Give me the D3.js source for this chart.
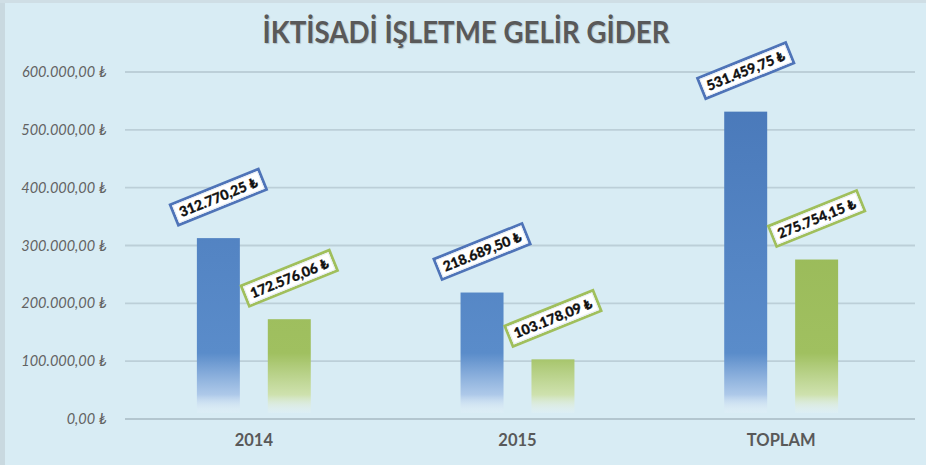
<!DOCTYPE html>
<html lang="tr">
<head>
<meta charset="UTF-8">
<title>İktisadi İşletme Gelir Gider</title>
<script src="https://d3js.org/d3.v7.min.js"></script>
<style>
  html, body { margin: 0; padding: 0; background: #d8ecf4; }
  svg { display: block; }
</style>
</head>
<body>
<div id="chart"></div>
<script>
// Data
const categories = ["2014", "2015", "TOPLAM"];
const series = ["gelir", "gider"];
const gelirValues = [312770.25, 218689.50, 531459.75];
const giderValues = [172576.06, 103178.09, 275754.15];
const yTicks = [0, 100000, 200000, 300000, 400000, 500000, 600000];
const title = "İKTİSADİ İŞLETME GELİR GİDER";

const width = 926;
const height = 465;
const margin = { top: 72, right: 13, bottom: 46, left: 122 };

const colors = {
  gelir: { top: "#4877b8", mid: "#5a8cca", light: "#a9c5e8", stroke: "#4f74b8" },
  gider: { top: "#92b350", mid: "#a0c060", light: "#cde0a6", stroke: "#a0bf5c" }
};

// Turkish currency formatting: 312.770,25 ₺
const trLocale = d3.formatLocale({ decimal: ",", thousands: ".", grouping: [3], currency: ["", " ₺"] });
const fmt = v => trLocale.format(",.2f")(v) + " ₺";

const svg = d3.select("#chart").append("svg")
  .attr("width", width)
  .attr("height", height);

// background + soft frame edge
svg.append("rect").attr("width", width).attr("height", height).attr("fill", "#d8ecf4");
svg.append("rect").attr("x", 0).attr("y", 0).attr("width", 5).attr("height", height).attr("fill", "#c9d9e0");
svg.append("rect").attr("x", 0).attr("y", 0).attr("width", width).attr("height", 3).attr("fill", "#cfdee5");

const x0 = d3.scaleBand()
  .domain(categories)
  .range([margin.left, width - margin.right]);

const x1 = d3.scaleBand()
  .domain(series)
  .range([x0.bandwidth() * 0.284, x0.bandwidth() * 0.716])
  .paddingInner(0.394);

const y = d3.scaleLinear()
  .domain([0, 600000])
  .range([height - margin.bottom, margin.top]);

// gradients (fade to background toward the bottom)
const defs = svg.append("defs");
series.forEach(s => {
  const g = defs.append("linearGradient")
    .attr("id", "grad-" + s)
    .attr("gradientUnits", "userSpaceOnUse")
    .attr("x1", 0).attr("x2", 0)
    .attr("y1", y(600000)).attr("y2", y(0));
  g.append("stop").attr("offset", "0%").attr("stop-color", colors[s].top);
  g.append("stop").attr("offset", "81%").attr("stop-color", colors[s].mid);
  g.append("stop").attr("offset", "93%").attr("stop-color", colors[s].light).attr("stop-opacity", 0.9);
  g.append("stop").attr("offset", "99%").attr("stop-color", "#f2f8fc").attr("stop-opacity", 0.05);
});

// gridlines
svg.append("g")
  .selectAll("line")
  .data(yTicks)
  .join("line")
  .attr("x1", margin.left + 3)
  .attr("x2", width - margin.right + 2)
  .attr("y1", d => y(d))
  .attr("y2", d => y(d))
  .attr("stroke", d => d === 0 ? "#b3c6cf" : "#bccfd8")
  .attr("stroke-width", 1.8);

// y labels
svg.append("g")
  .selectAll("text")
  .data(yTicks)
  .join("text")
  .attr("x", 107)
  .attr("y", d => y(d))
  .attr("dy", "0.35em")
  .attr("text-anchor", "end")
  .attr("font-family", "Lato, 'Noto Sans', sans-serif")
  .attr("font-style", "italic")
  .attr("font-size", 14.5)
  .attr("fill", "#626262")
  .text(d => fmt(d));

// x labels
svg.append("g")
  .selectAll("text")
  .data(categories)
  .join("text")
  .attr("x", d => x0(d) + x0.bandwidth() / 2)
  .attr("y", 446)
  .attr("text-anchor", "middle")
  .attr("font-family", "Lato, 'Noto Sans', sans-serif")
  .attr("font-weight", "bold")
  .attr("font-size", 16.5)
  .attr("fill", "#595959")
  .text(d => d);

// title
svg.append("text")
  .attr("x", 466)
  .attr("y", 43)
  .attr("text-anchor", "middle")
  .attr("font-family", "Lato, 'Noto Sans', sans-serif")
  .attr("font-weight", "bold")
  .attr("font-size", 31)
  .attr("fill", "#595959")
  .attr("textLength", 407)
  .attr("lengthAdjust", "spacingAndGlyphs")
  .style("text-shadow", "1px 1px 1px rgba(0,0,0,0.18)")
  .text(title);

const rows = categories.map((c, i) => ({ cat: c, gelir: gelirValues[i], gider: giderValues[i] }));
const bars = rows.flatMap(r => series.map(s => ({ cat: r.cat, s, v: r[s] })));

// bars
svg.append("g")
  .selectAll("rect")
  .data(bars)
  .join("rect")
  .attr("x", d => x0(d.cat) + x1(d.s))
  .attr("y", d => y(d.v))
  .attr("width", x1.bandwidth())
  .attr("height", d => y(0) - 6 - y(d.v))
  .attr("fill", d => `url(#grad-${d.s})`);

// rotated value labels
const labels = svg.append("g")
  .selectAll("g")
  .data(bars)
  .join("g")
  .attr("transform", d => `translate(${x0(d.cat) + x1(d.s) + x1.bandwidth() / 2},${y(d.v) - 41}) rotate(-22)`);

labels.append("rect")
  .attr("class", "box")
  .attr("fill", "#ffffff")
  .attr("stroke", d => colors[d.s].stroke)
  .attr("stroke-width", 2.8);

labels.append("rect")
  .attr("class", "inner")
  .attr("fill", "none")
  .attr("stroke", "#e8eef5")
  .attr("stroke-width", 1);

labels.append("text")
  .attr("text-anchor", "middle")
  .attr("dy", "0.36em")
  .attr("font-family", "Lato, 'Noto Sans', sans-serif")
  .attr("font-weight", "900")
  .attr("font-size", 14)
  .attr("fill", "#111")
  .attr("stroke", "#111")
  .attr("stroke-width", 0.3)
  .text(d => fmt(d.v));

labels.each(function () {
  const g = d3.select(this);
  const w = g.select("text").node().getComputedTextLength() + 12;
  g.select("rect.box")
    .attr("x", -w / 2)
    .attr("y", -11)
    .attr("width", w)
    .attr("height", 22);
  g.select("rect.inner")
    .attr("x", -w / 2 + 2)
    .attr("y", -9)
    .attr("width", w - 4)
    .attr("height", 18);
});
</script>
</body>
</html>
